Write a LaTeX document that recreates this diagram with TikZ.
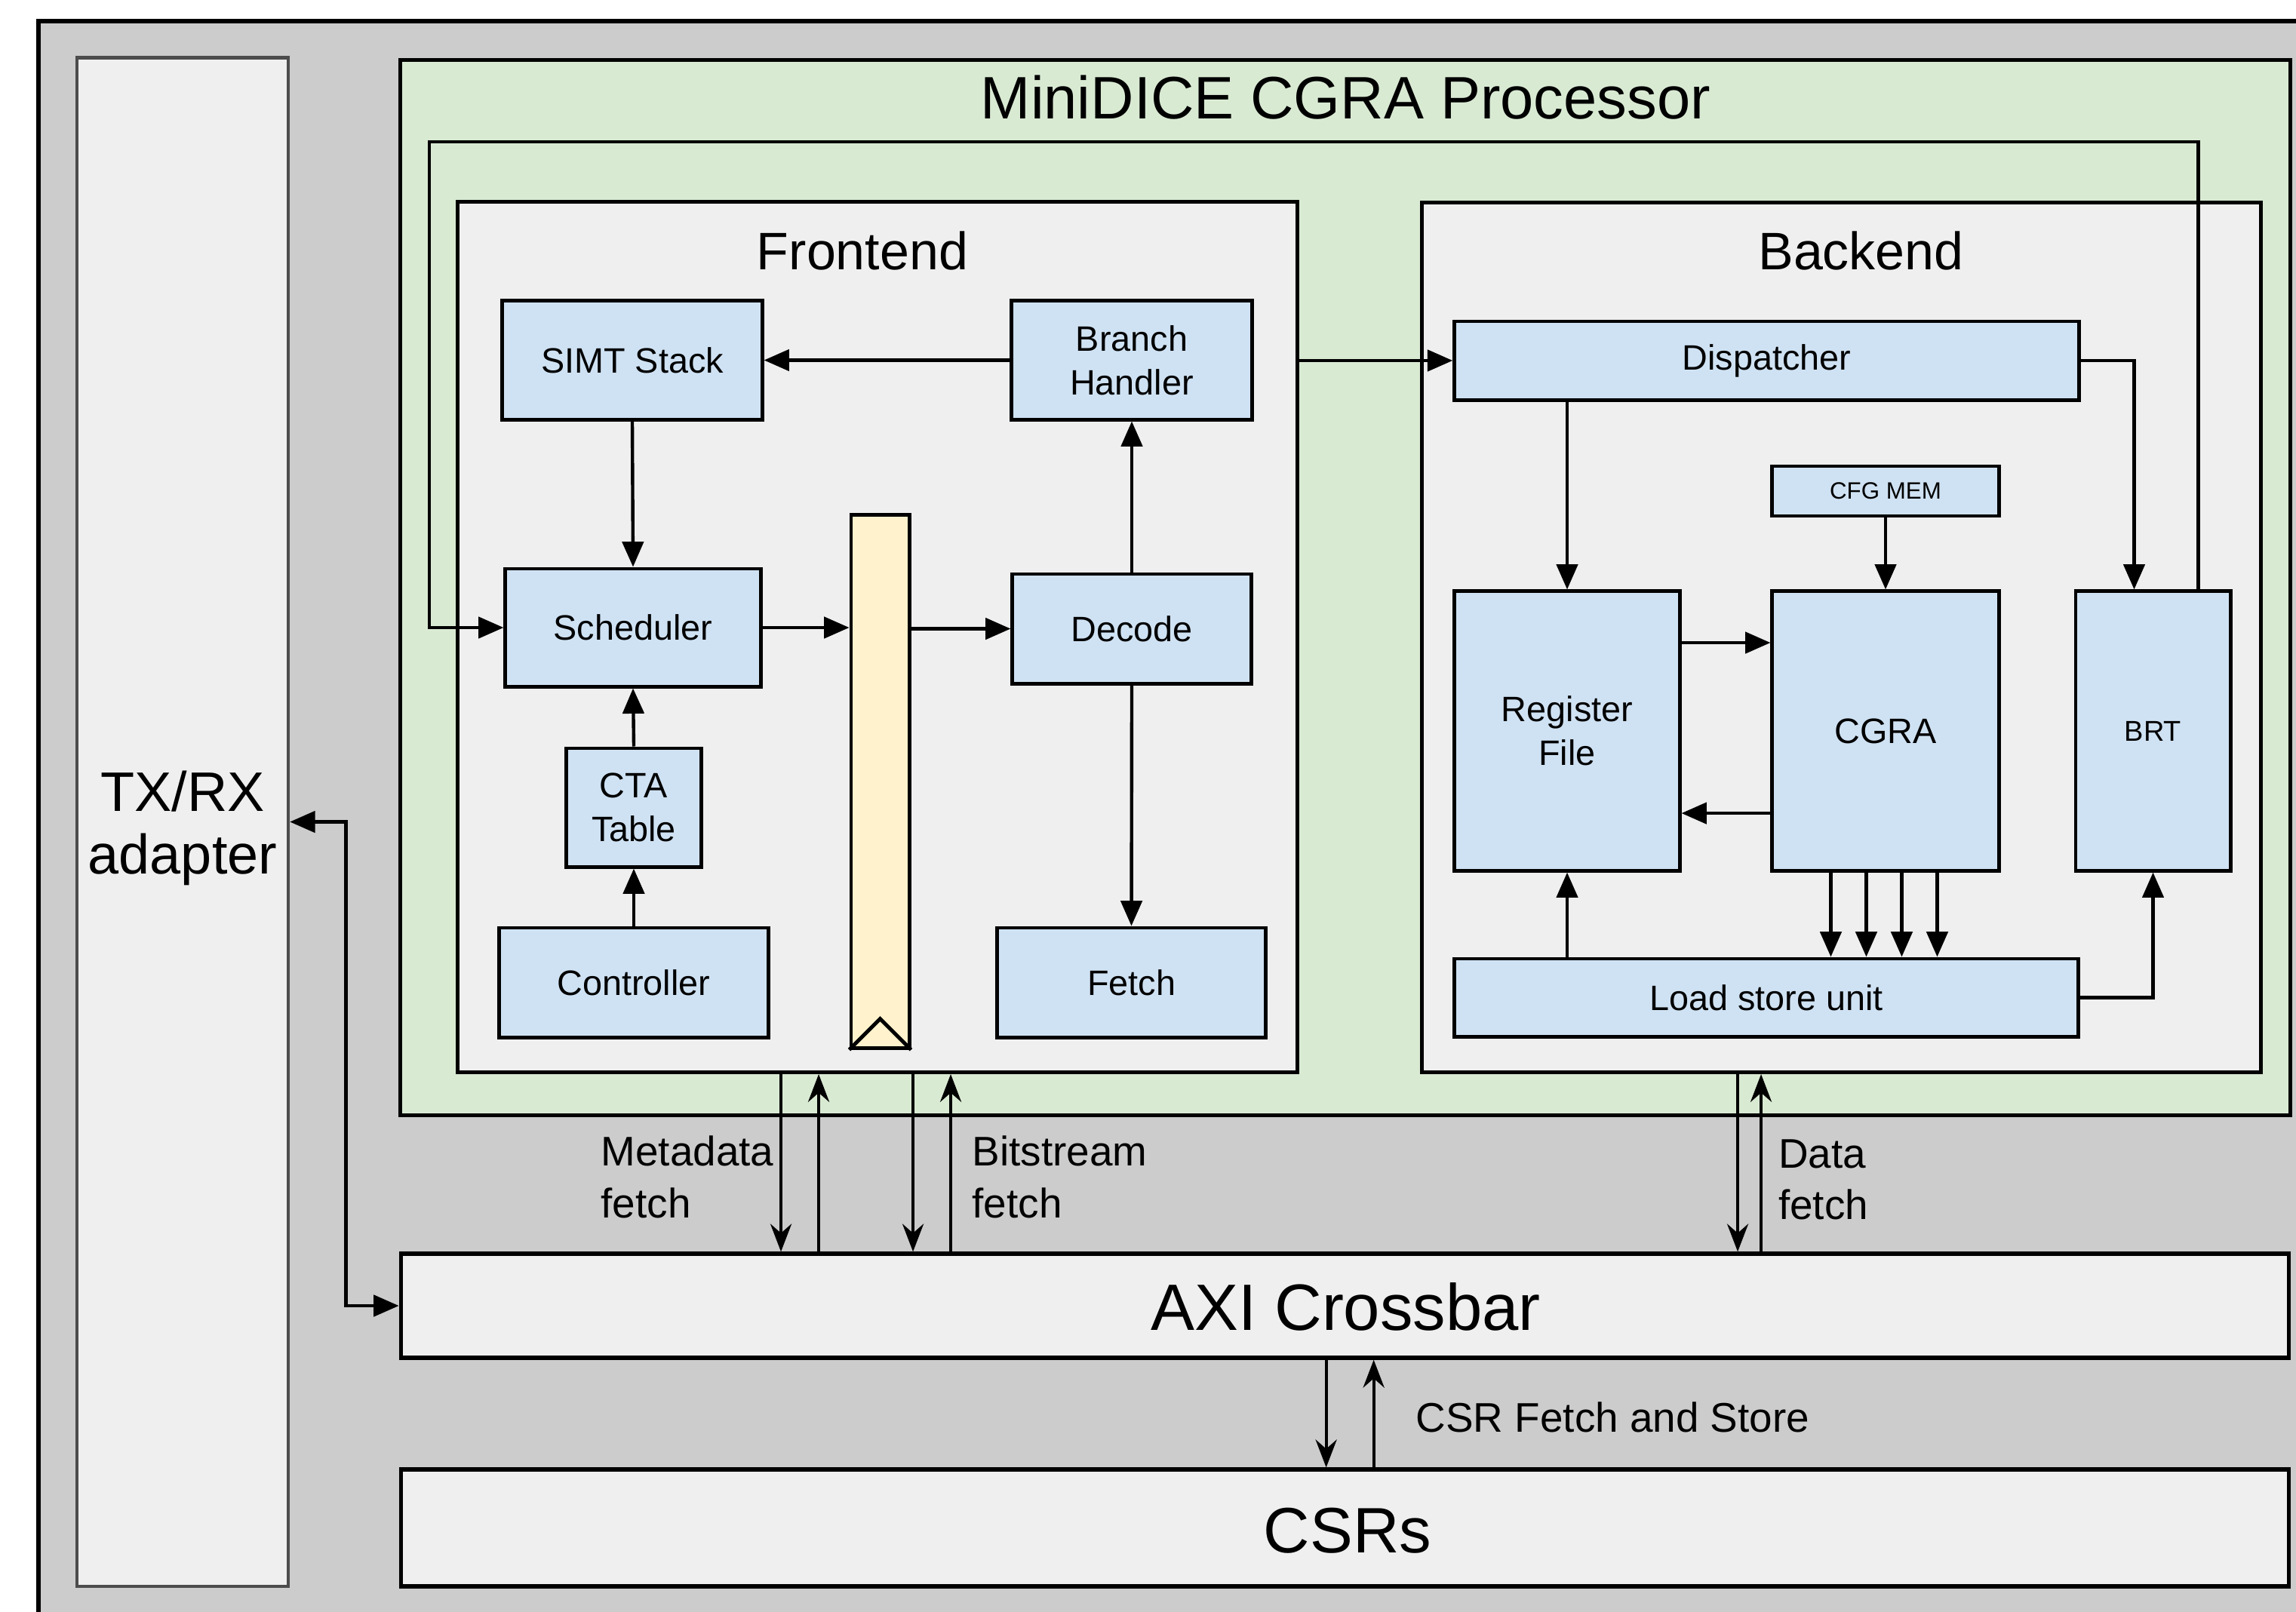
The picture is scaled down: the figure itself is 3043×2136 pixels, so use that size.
\documentclass[tikz,border=0pt]{standalone}
\usepackage{fontspec}
\setmainfont{Liberation Sans}
\usetikzlibrary{arrows.meta,calc}
\definecolor{cgray}{HTML}{CCCCCC}
\definecolor{clight}{HTML}{EFEFEF}
\definecolor{cgreen}{HTML}{D9EAD3}
\definecolor{cblue}{HTML}{CFE2F3}
\definecolor{cyellow}{HTML}{FFF2CC}
\begin{document}
\begin{tikzpicture}[x=0.01cm,y=-0.01cm,
  box/.style={draw, line width=1.5pt, inner sep=0pt, align=center},
  cont/.style={box, fill=clight},
  bbox/.style={box, line width=1.4pt, fill=cblue, font=\fontsize{13.3}{16.5}\selectfont},
  ttl/.style={inner sep=0pt, anchor=base},
  lbl/.style={inner sep=0pt, anchor=base west, font=\fontsize{15.6}{19}\selectfont},
  arr/.style={line width=1.25pt, -{Triangle[length=9.5pt,width=8pt]}},
  dblarr/.style={line width=1.25pt, {Triangle[length=9.5pt,width=8pt]}-{Triangle[length=9.5pt,width=8pt]}},
  bus/.style={line width=1.1pt, -{Stealth[length=10.5pt,width=8pt,inset=3.5pt]}},
]
\useasboundingbox (0,0) rectangle (3043,2136);
\clip (0,0) rectangle (3043,2136);
\fill[white] (0,0) rectangle (3043,2136);
\draw[fill=cgray, line width=1.5pt] (51,28) rectangle (3100,2200);

% containers
\node[box, draw=black!70, line width=1.2pt, fill=clight, minimum width=2.80cm, minimum height=20.25cm] (txrx) at (242,1089.5) {};
\node[box, fill=cgreen, minimum width=25.04cm, minimum height=13.98cm] (proc) at (1783,779) {};
\node[cont, minimum width=11.12cm, minimum height=11.53cm] (front) at (1163,844.5) {};
\node[cont, minimum width=11.11cm, minimum height=11.52cm] (back) at (2440.5,845) {};
\node[cont, minimum width=25.01cm, minimum height=1.38cm] (axi) at (1782.5,1731) {};
\node[cont, minimum width=25.01cm, minimum height=1.55cm] (csrs) at (1782.5,2025.5) {};

% titles
\node[ttl, font=\fontsize{22.6}{27}\selectfont] at (1783.5,157) {MiniDICE CGRA Processor};
\node[ttl, font=\fontsize{19.9}{24}\selectfont] at (1143,357) {Frontend};
\node[ttl, font=\fontsize{19.9}{24}\selectfont] at (2466.5,357) {Backend};
\node[ttl, font=\fontsize{21}{25}\selectfont] at (242,1075) {TX/RX};
\node[ttl, font=\fontsize{21}{25}\selectfont] at (242,1158) {adapter};
\node[ttl, font=\fontsize{24.7}{29}\selectfont] at (1783.5,1763.5) {AXI Crossbar};
\node[ttl, font=\fontsize{24.2}{29}\selectfont] at (1786,2058) {CSRs};

% frontend blocks
\node[bbox, minimum width=3.44cm, minimum height=1.57cm] (simt) at (838,477.5) {SIMT Stack};
\node[bbox, minimum width=3.18cm, minimum height=1.57cm] (branch) at (1500,477.5) {Branch\\Handler};
\node[bbox, minimum width=3.38cm, minimum height=1.56cm] (sched) at (839,832) {Scheduler};
\node[bbox, minimum width=3.16cm, minimum height=1.45cm] (decode) at (1500,833.5) {Decode};
\node[bbox, minimum width=1.78cm, minimum height=1.57cm] (cta) at (840,1070.5) {CTA\\Table};
\node[bbox, minimum width=3.56cm, minimum height=1.45cm] (ctrl) at (840,1302.5) {Controller};
\node[bbox, minimum width=3.55cm, minimum height=1.45cm] (fetch) at (1499.5,1302.5) {Fetch};
\node[box, line width=1.4pt, fill=cyellow, minimum width=0.77cm, minimum height=7.06cm] (preg) at (1166.5,1036) {};
\draw[line width=1.4pt] (preg.south west) -- ($(preg.south)+(0,-41)$) -- (preg.south east);

% backend blocks
\node[bbox, minimum width=8.27cm, minimum height=1.04cm] (disp) at (2341.5,478) {Dispatcher};
\node[bbox, minimum width=3.00cm, minimum height=0.66cm, font=\fontsize{8.9}{11}\selectfont] (cfg) at (2499,651) {CFG MEM};
\node[bbox, minimum width=2.98cm, minimum height=3.70cm] (rf) at (2077,969) {Register\\File};
\node[bbox, minimum width=3.00cm, minimum height=3.70cm] (cgra) at (2499,969) {CGRA};
\node[bbox, minimum width=2.05cm, minimum height=3.70cm, font=\fontsize{10.8}{13}\selectfont] (brt) at (2853.5,969) {BRT};
\node[bbox, minimum width=8.26cm, minimum height=1.03cm] (lsu) at (2341,1322.5) {Load store unit};

% frontend connectors
\draw[arr] (branch.west) -- (simt.east);
\draw[arr] (simt.south) -- (sched.north);
\draw[arr] (ctrl.north) -- (cta.south);
\draw[arr] (cta.north) -- (sched.south);
\draw[arr] (sched.east) -- (sched.east -| preg.west);
\draw[arr] (preg.east |- decode.west) -- (decode.west);
\draw[arr] (decode.north) -- (branch.south);
\draw[arr] (decode.south) -- (fetch.north);
\draw[arr] (front.east |- disp.west) -- (disp.west);

% backend connectors
\draw[arr] (disp.east) -| ($(brt.north west)+(80,0)$);
\draw[arr] (disp.south -| rf.north) -- (rf.north);
\draw[arr] (cfg.south) -- (cgra.north);
\draw[arr] ($(rf.north east)+(0,70.6)$) -- ($(cgra.north west)+(0,70.6)$);
\draw[arr] ($(cgra.south west)+(0,-78.5)$) -- ($(rf.south east)+(0,-78.5)$);
\foreach \dx in {80,127,174,221} {
  \draw[arr] ($(cgra.south west)+(\dx,0)$) -- ($(cgra.south west |- lsu.north)+(\dx,0)$);
}
\draw[arr] (lsu.north -| rf.south) -- (rf.south);
\draw[arr] (lsu.east) -| (brt.south);

% feedback loop
\coordinate (fbL) at (569,188);
\draw[arr] ($(brt.north east)+(-45,0)$) |- (fbL) |- (sched.west);

% TX/RX <-> AXI
\draw[dblarr] (txrx.east) -| ($(axi.west)+(-70,0)$) -- (axi.west);

% bus arrows
\draw[bus] ($(front.south west)+(431,0)$) -- ($(front.south west |- axi.north)+(431,0)$);
\draw[bus] ($(front.south west |- axi.north)+(481,0)$) -- ($(front.south west)+(481,0)$);
\draw[bus] ($(front.south west)+(606,0)$) -- ($(front.south west |- axi.north)+(606,0)$);
\draw[bus] ($(front.south west |- axi.north)+(656,0)$) -- ($(front.south west)+(656,0)$);
\draw[bus] ($(back.south west)+(421,0)$) -- ($(back.south west |- axi.north)+(421,0)$);
\draw[bus] ($(back.south west |- axi.north)+(452,0)$) -- ($(back.south west)+(452,0)$);
\draw[bus] ($(axi.south west)+(1229,0)$) -- ($(axi.south west |- csrs.north)+(1229,0)$);
\draw[bus] ($(axi.south west |- csrs.north)+(1292,0)$) -- ($(axi.south west)+(1292,0)$);

% bus labels
\node[lbl] at (796,1545.5) {Metadata};
\node[lbl] at (796,1614) {fetch};
\node[lbl] at (1288,1545.5) {Bitstream};
\node[lbl] at (1288,1614) {fetch};
\node[lbl] at (2356.5,1548) {Data};
\node[lbl] at (2356.5,1616) {fetch};
\node[lbl] at (1876,1898) {CSR Fetch and Store};
\end{tikzpicture}
\end{document}
